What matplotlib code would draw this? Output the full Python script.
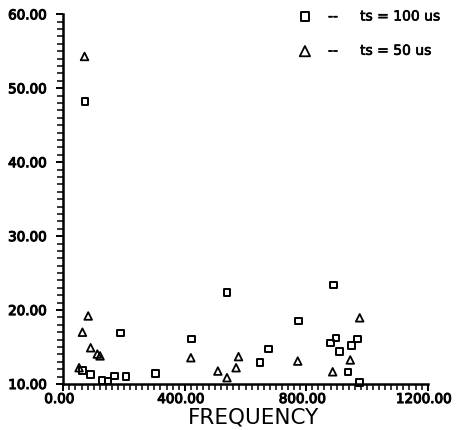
import matplotlib
matplotlib.use("Agg")
import matplotlib.pyplot as plt
import matplotlib.patheffects as pe
from matplotlib.transforms import ScaledTranslation
from matplotlib.ticker import MultipleLocator, FormatStrFormatter

# Data
sq_freq = [71, 63, 90, 128, 148, 169, 189, 206, 303, 423, 539, 647, 676, 774,
           889, 880, 898, 910, 938, 949, 968, 975]
sq_val = [48.2, 11.8, 11.3, 10.45, 10.4, 11.1, 16.9, 11.0, 11.4, 16.1, 22.35,
          12.9, 14.7, 18.5, 23.4, 15.55, 16.25, 14.4, 11.6, 15.2, 16.1, 10.2]

tri_freq = [70, 82, 63, 52, 90, 112, 121, 420, 509, 539, 569, 577, 772, 887,
            945, 976]
tri_val = [54.3, 19.2, 17.0, 12.2, 14.9, 14.05, 13.8, 13.55, 11.75, 10.85,
           12.2, 13.7, 13.1, 11.65, 13.25, 18.95]

labels = ["--     ts = 100 us", "--     ts = 50 us"]
xlabel = "FREQUENCY"

bold = [pe.withStroke(linewidth=0.8, foreground="black")]
bold_thin = [pe.withStroke(linewidth=0.45, foreground="black")]

fig = plt.figure(figsize=(4.6, 4.3), dpi=100)
ax = fig.add_axes([0.1376, 0.107, 0.7922, 0.8597])

ax.scatter(sq_freq, sq_val, marker="s", s=22, facecolors="none",
           edgecolors="black", linewidths=1.4, label=labels[0], clip_on=False, zorder=3)
ax.scatter(tri_freq, tri_val, marker="^", s=30, facecolors="none",
           edgecolors="black", linewidths=1.3, label=labels[1], clip_on=False, zorder=3)

ax.set_xlim(0, 1200)
ax.set_ylim(10, 60)
for s in ["top", "right"]:
    ax.spines[s].set_visible(False)
for s in ["left", "bottom"]:
    ax.spines[s].set_linewidth(1.8)

ax.xaxis.set_major_locator(MultipleLocator(400))
ax.xaxis.set_minor_locator(MultipleLocator(20))
ax.yaxis.set_major_locator(MultipleLocator(10))
ax.yaxis.set_minor_locator(MultipleLocator(1))
ax.xaxis.set_major_formatter(FormatStrFormatter("%.2f"))
ax.yaxis.set_major_formatter(FormatStrFormatter("%.2f"))
ax.tick_params(axis="both", which="major", direction="out", length=5, width=1.4,
               labelsize=9.7)
ax.tick_params(axis="both", which="minor", direction="out", length=4, width=1.1)
ax.tick_params(axis="x", which="major", pad=1.5)
ax.tick_params(axis="y", which="major", pad=7)

fig.canvas.draw()
shift = ScaledTranslation(-4 / 100, 0, fig.dpi_scale_trans)
for lab in ax.get_xticklabels():
    lab.set_path_effects(bold)
    lab.set_transform(lab.get_transform() + shift)
for lab in ax.get_yticklabels():
    lab.set_path_effects(bold)

ax.set_xlabel(xlabel, fontsize=15.5)
ax.xaxis.set_label_coords(0.5217, -0.063)

leg = ax.legend(loc="upper left", bbox_to_anchor=(0.644, 1.013), frameon=False,
                borderpad=0, borderaxespad=0, markerscale=1.35,
                labelspacing=1.46, handletextpad=1.16, handlelength=1.0,
                prop={"size": 10})
for t in leg.get_texts():
    t.set_path_effects(bold_thin)

fig.savefig("out.png", dpi=100)
